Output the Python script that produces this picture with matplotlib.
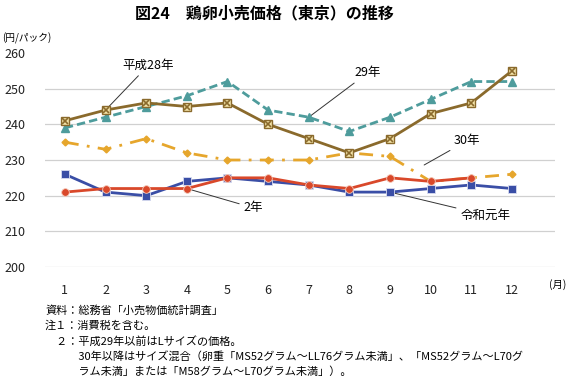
import numpy as np
import matplotlib.pyplot as plt

plt.rcParams['font.family'] = ['Noto Sans CJK JP', 'DejaVu Sans']

months = list(range(1, 13))
h28 = [241, 244, 246, 245, 246, 240, 236, 232, 236, 243, 246, 255]
h29 = [239, 242, 245, 248, 252, 244, 242, 238, 242, 247, 252, 252]
h30 = [235, 233, 236, 232, 230, 230, 230, 232, 231, 224, 225, 226]
r1 = [226, 221, 220, 224, 225, 224, 223, 221, 221, 222, 223, 222]
r2 = [221, 222, 222, 222, 225, 225, 223, 222, 225, 224, 225]

brown = '#8a6a2c'
teal = '#4e9c9c'
orange = '#e6a62c'
blue = '#3a4ea6'
red = '#d9482a'

fig = plt.figure(figsize=(5.74, 3.79), dpi=100)
ax = fig.add_axes([45 / 574, 1 - 267 / 379, 510 / 574, 214 / 379])

ax.plot(months, h30, color=orange, lw=2, ls=(0, (5, 3, 1, 3)), marker='D', ms=3.5,
        mfc=orange, mec=orange, zorder=3)
ax.plot(months, h29, color=teal, lw=2, ls=(0, (3, 1.5)), marker='^', ms=5.5,
        mfc=teal, mec=teal, zorder=4)
ax.plot(months, h28, color=brown, lw=2, marker='s', ms=6, mfc='#f3e3a8', mec=brown, zorder=5)
ax.plot(months, h28, ls='none', marker='x', ms=5, mec=brown, mew=1.2, zorder=6)
ax.plot(months, r1, color=blue, lw=2, marker='s', ms=5.5, mfc=blue, mec='#d8dcf0', mew=0.6, zorder=6)
ax.plot(months[:len(r2)], r2, color=red, lw=2, marker='o', ms=5.5, mfc=red, mec='#f4c8b8', mew=0.6, zorder=7)

ax.set_xlim(0.51, 13.06)
ax.set_ylim(200, 260)
ax.set_yticks(range(200, 261, 10))
ax.set_xticks(months)
ax.tick_params(length=0, labelsize=9, colors='#222222')
ax.tick_params(axis='x', pad=12)
ax.tick_params(axis='y', pad=14)
for v in range(200, 251, 10):
    ax.axhline(v, color='#d0d0d0', lw=0.9, zorder=0)
for s in ax.spines.values():
    s.set_visible(False)

lp = dict(arrowstyle='-', color='#333333', lw=0.7, shrinkA=1, shrinkB=0)
ax.annotate('平成28年', xy=(2, h28[1]), xytext=(3.05, 256.5), fontsize=9, ha='center',
            va='center', arrowprops=lp)
ax.annotate('29年', xy=(7, h29[6]), xytext=(8.45, 254.4), fontsize=9, ha='center',
            va='center', arrowprops=lp)
ax.annotate('30年', xy=(9.84, 228.6), xytext=(10.9, 235.4), fontsize=9, ha='center',
            va='center', arrowprops=lp)
ax.annotate('2年', xy=(4, r2[3]), xytext=(5.63, 216.6), fontsize=9, ha='center',
            va='center', arrowprops=lp)
ax.annotate('令和元年', xy=(9, r1[8]), xytext=(11.34, 214.6), fontsize=9, ha='center',
            va='center', arrowprops=lp)

fig.text(264 / 574, 1 - 13 / 379, '図24　鶏卵小売価格（東京）の推移', fontsize=11.5,
         fontweight='bold', ha='center', va='center')
fig.text(2 / 574, 1 - 38 / 379, '(円/パック)', fontsize=7, ha='left', va='center')
fig.text(549 / 574, 1 - 285 / 379, '(月)', fontsize=7.5, ha='left', va='center')

notes = ['資料：総務省「小売物価統計調査」',
         '注１：消費税を含む。',
         '　２：平成29年以前はLサイズの価格。',
         '　　　30年以降はサイズ混合（卵重「MS52グラム～LL76グラム未満」、「MS52グラム～L70グ',
         '　　　ラム未満」または「M58グラム～L70グラム未満」）。']
for i, t in enumerate(notes):
    fig.text(45 / 574, 1 - (310 + i * 15.5) / 379, t, fontsize=8, ha='left', va='center')

fig.savefig('out.png', dpi=100)
